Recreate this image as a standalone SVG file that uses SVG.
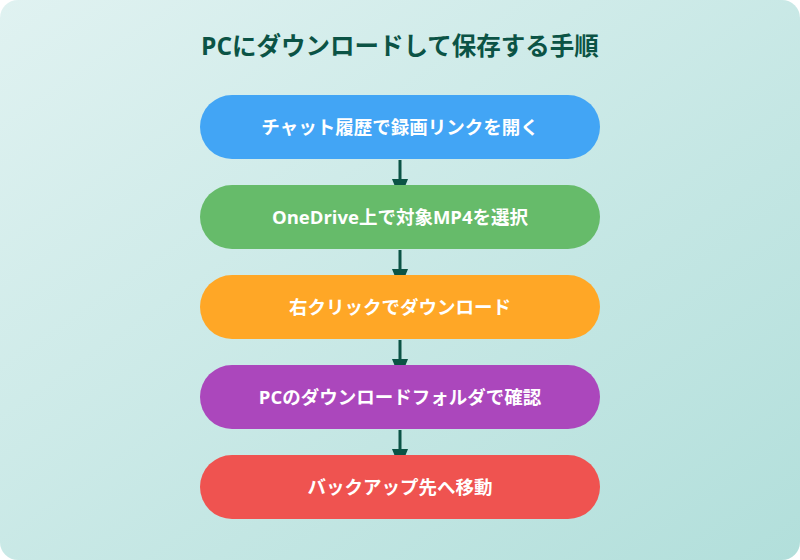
<svg xmlns="http://www.w3.org/2000/svg" width="800" height="560" viewBox="0 0 800 560">
<defs>
<linearGradient id="bg" x1="0" y1="0" x2="1" y2="1">
<stop offset="0" stop-color="#e0f2f1"/>
<stop offset="1" stop-color="#b2dfdb"/>
</linearGradient>
<marker id="arr" viewBox="0 0 20 16" refX="20" refY="8" markerWidth="20" markerHeight="16" markerUnits="userSpaceOnUse" orient="auto" preserveAspectRatio="none">
<path d="M0,0 L20,8 L0,16 z" fill="#0b5345"/>
</marker>
</defs>
<style>
.title{font-family:"Open Sans","Noto Sans CJK JP",sans-serif;font-weight:700;font-size:24.5px;fill:#0b5345;text-anchor:middle}
.lbl{font-family:"Open Sans","Noto Sans CJK JP",sans-serif;font-weight:700;font-size:18.5px;fill:#ffffff;text-anchor:middle}
.conn{stroke:#0b5345;stroke-width:3;fill:none;marker-end:url(#arr)}
</style>
<rect x="0" y="0" width="800" height="560" rx="18" fill="url(#bg)"/>
<text class="title" x="400" y="55">PCにダウンロードして保存する手順</text>
<g id="connectors">
<path class="conn" d="M400,160 V199"/>
<path class="conn" d="M400,250 V289"/>
<path class="conn" d="M400,340 V379"/>
<path class="conn" d="M400,430 V469"/>
</g>
<g id="step1">
<rect x="200" y="95" width="400" height="64" rx="32" fill="#42a5f5"/>
<text class="lbl" x="400" y="133.5">チャット履歴で録画リンクを開く</text>
</g>
<g id="step2">
<rect x="200" y="185" width="400" height="64" rx="32" fill="#66bb6a"/>
<text class="lbl" x="400" y="223.5">OneDrive上で対象MP4を選択</text>
</g>
<g id="step3">
<rect x="200" y="275" width="400" height="64" rx="32" fill="#ffa726"/>
<text class="lbl" x="400" y="313.5">右クリックでダウンロード</text>
</g>
<g id="step4">
<rect x="200" y="365" width="400" height="64" rx="32" fill="#ab47bc"/>
<text class="lbl" x="400" y="403.5">PCのダウンロードフォルダで確認</text>
</g>
<g id="step5">
<rect x="200" y="455" width="400" height="64" rx="32" fill="#ef5350"/>
<text class="lbl" x="400" y="493.5">バックアップ先へ移動</text>
</g>
</svg>
